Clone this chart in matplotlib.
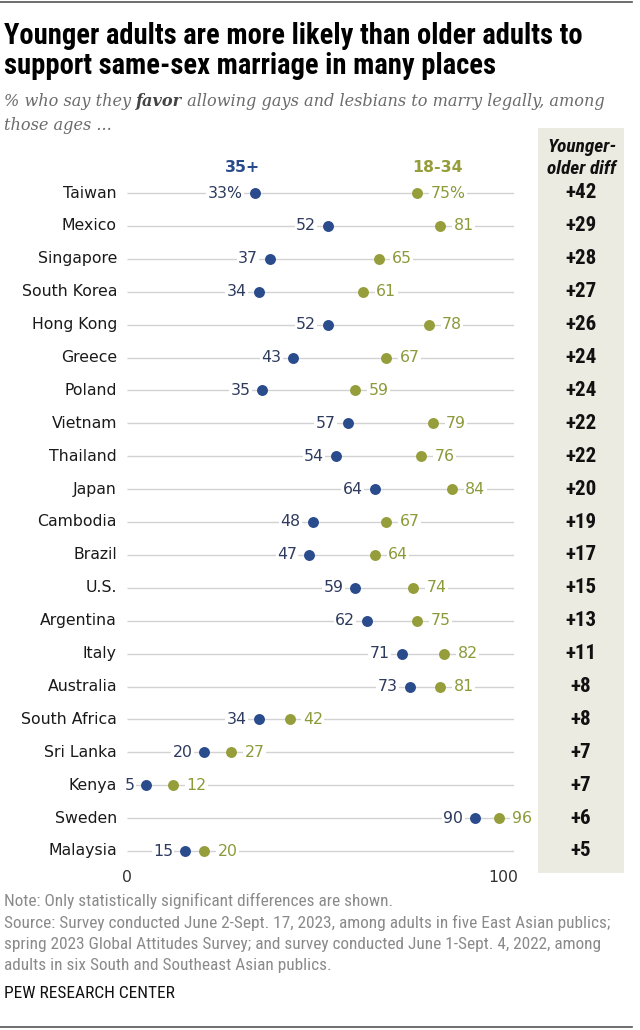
import os
import matplotlib
matplotlib.use("Agg")
import matplotlib.pyplot as plt
from matplotlib.patches import Rectangle
from matplotlib import font_manager as fm
from matplotlib.font_manager import FontProperties

countries = ["Taiwan", "Mexico", "Singapore", "South Korea", "Hong Kong", "Greece",
             "Poland", "Vietnam", "Thailand", "Japan", "Cambodia", "Brazil", "U.S.",
             "Argentina", "Italy", "Australia", "South Africa", "Sri Lanka", "Kenya",
             "Sweden", "Malaysia"]
older = [33, 52, 37, 34, 52, 43, 35, 57, 54, 64, 48, 47, 59, 62, 71, 73, 34, 20, 5, 90, 15]
younger = [75, 81, 65, 61, 78, 67, 59, 79, 76, 84, 67, 64, 74, 75, 82, 81, 42, 27, 12, 96, 20]
diffs = ["+42", "+29", "+28", "+27", "+26", "+24", "+24", "+22", "+22", "+20", "+19",
         "+17", "+15", "+13", "+11", "+8", "+8", "+7", "+7", "+6", "+5"]
xtick_labels = ["0", "100"]

W, H = 640, 1030
BLUE = "#2b4c8c"
BLUE_TXT = "#2e3b5e"
GREEN = "#959e3a"
GREEN_TXT = "#8c9a3a"
GRID = "#d2d2d2"
BOX = "#ecebe2"


def pick_narrow(bold, italic):
    cands = []
    for f in fm.fontManager.ttflist:
        p = os.path.basename(f.fname).lower()
        if not ("condensed" in p or "narrow" in p):
            continue
        if any(k in p for k in ("extra", "ultra", "semi", "light", "thin", "medium", "black")):
            continue
        b = "bold" in p
        it = ("italic" in p) or ("oblique" in p)
        if b == bold and it == italic:
            cands.append(f.fname)
    pref = ["liberationsansnarrow", "robotocondensed", "notosans", "dejavusanscondensed", "opensans"]

    def key(fn):
        p = os.path.basename(fn).lower().replace("-", "").replace("_", "")
        for k, s in enumerate(pref):
            if p.startswith(s):
                return k
        return len(pref)
    cands.sort(key=key)
    if cands:
        return FontProperties(fname=cands[0])
    return FontProperties(family=["Liberation Sans", "DejaVu Sans"],
                          weight="bold" if bold else "normal",
                          style="italic" if italic else "normal")


NAR = pick_narrow(False, False)
NAR_B = pick_narrow(True, False)
NAR_BI = pick_narrow(True, True)

fig = plt.figure(figsize=(W / 100, H / 100), dpi=100)
fig.canvas.draw()
R = fig.canvas.get_renderer()


def fx(x):
    return x / W


def fy(y):
    return 1 - y / H


def fp(base, size):
    p = base.copy()
    p.set_size(size)
    return p


def fit(t, target, base, size0):
    t.set_fontproperties(fp(base, size0))
    w = t.get_window_extent(renderer=R).width
    s = size0 * target / w
    t.set_fontproperties(fp(base, s))
    return s


# main axes: x 0..100 maps to pixel 127..514; rows from y=193 to y=851
ax_top, ax_bot = 170, 870
ax = fig.add_axes([fx(127), fy(ax_bot), (514 - 127) / W, (ax_bot - ax_top) / H])
ax.set_zorder(2)
n = len(countries)
step = (851 - 193) / (n - 1)
ax.set_xlim(0, 100)
ax.set_ylim((n - 1) + (ax_bot - 851) / step, -(193 - ax_top) / step)
ax.axis("off")

# diff column box
fig.patches.append(Rectangle((fx(538), fy(873)), (624 - 538) / W, (873 - 128) / H,
                             transform=fig.transFigure, facecolor=BOX, edgecolor="none", zorder=0))

LAB = ["DejaVu Sans"]
diff_x = 1 + (581 - 514) / (514 - 127)
for i, (c, o, y, d) in enumerate(zip(countries, older, younger, diffs)):
    ax.hlines(i, 0, 100, color=GRID, lw=1.0, zorder=1)
    ax.text(-2.6, i, c, ha="right", va="center", fontsize=11.3, family=LAB, color="#1a1a1a",
            clip_on=False)
    ax.scatter([o], [i], s=62, color=BLUE, zorder=3, linewidths=0)
    ax.scatter([y], [i], s=62, color=GREEN, zorder=3, linewidths=0)
    suf = "%" if i == 0 else ""
    ax.text(o - 3.1, i, f"{o}{suf}", ha="right", va="center", fontsize=11.3, family=LAB,
            color=BLUE_TXT, zorder=4,
            bbox=dict(boxstyle="square,pad=0.08", facecolor="white", edgecolor="none"))
    ax.text(y + 3.4, i, f"{y}{suf}", ha="left", va="center", fontsize=11.3, family=LAB,
            color=GREEN_TXT, zorder=4,
            bbox=dict(boxstyle="square,pad=0.08", facecolor="white", edgecolor="none"))
    td = ax.text(diff_x, i, d, transform=ax.get_yaxis_transform(),
                 ha="center", va="center", color="#111111", clip_on=False)
    if i == 0:
        dsize = fit(td, 31, NAR_B, 12)
    else:
        td.set_fontproperties(fp(NAR_B, dsize))

# x tick labels
ax.text(0, n - 1 + (878 - 851) / step, xtick_labels[0], ha="center", va="center",
        fontsize=11.3, family=LAB, color="#333333", clip_on=False)
ax.text(101, n - 1 + (878 - 851) / step, xtick_labels[1], ha="right", va="center",
        fontsize=11.3, family=LAB, color="#333333", clip_on=False)

# series headers
fig.text(fx(243), fy(167), "35+", ha="center", va="center", fontsize=11.3, family=LAB,
         fontweight="bold", color=BLUE)
fig.text(fx(437), fy(167), "18-34", ha="center", va="center", fontsize=11.3, family=LAB,
         fontweight="bold", color=GREEN)
h1 = fig.text(fx(582), fy(147), "Younger-", ha="center", va="center", color="#111111")
hs = fit(h1, 69, NAR_BI, 12)
fig.text(fx(582), fy(169), "older diff", ha="center", va="center", color="#111111",
         fontproperties=fp(NAR_BI, hs))

# title
t1 = fig.text(fx(4), fy(36), "Younger adults are more likely than older adults to", ha="left",
              va="center", color="#000000")
ts = fit(t1, 579, NAR_B, 17)
fig.text(fx(4), fy(66), "support same-sex marriage in many places", ha="left",
         va="center", color="#000000", fontproperties=fp(NAR_B, ts))

# subtitle with bold "favor"
SERIF = ["DejaVu Serif"]
sub_fs = 11.6
s1 = fig.text(fx(4), fy(102), "% who say they ", ha="left", va="center", fontsize=sub_fs,
              family=SERIF, style="italic", color="#6b6b6b")
bb = s1.get_window_extent(renderer=R)
s2 = fig.text(bb.x1 / W, fy(102), "favor", ha="left", va="center", fontsize=sub_fs,
              family=SERIF, style="italic", fontweight="bold", color="#444444")
bb2 = s2.get_window_extent(renderer=R)
fig.text(bb2.x1 / W, fy(102), " allowing gays and lesbians to marry legally, among",
         ha="left", va="center", fontsize=sub_fs, family=SERIF, style="italic", color="#6b6b6b")
fig.text(fx(4), fy(126), "those ages ...", ha="left", va="center", fontsize=sub_fs,
         family=SERIF, style="italic", color="#6b6b6b")

# notes
notes = ["Note: Only statistically significant differences are shown.",
         "Source: Survey conducted June 2-Sept. 17, 2023, among adults in five East Asian publics;",
         "spring 2023 Global Attitudes Survey; and survey conducted June 1-Sept. 4, 2022, among",
         "adults in six South and Southeast Asian publics."]
probe = fig.text(0, 0, notes[1], alpha=0)
ns = fit(probe, 612, NAR, 10.5)
probe.remove()
for k, line in enumerate(notes):
    fig.text(fx(4), fy(901 + k * 21.5), line, ha="left", va="center",
             fontproperties=fp(NAR, ns), color="#8a8a8a")
pw = fig.text(fx(4), fy(993), "PEW RESEARCH CENTER", ha="left", va="center", color="#111111")
fit(pw, 171, NAR, 10.5)

# top/bottom rules
fig.add_artist(plt.Line2D([0, fx(632)], [fy(2), fy(2)], transform=fig.transFigure,
                          color="#555555", lw=1.2))
fig.add_artist(plt.Line2D([0, fx(632)], [fy(1027), fy(1027)], transform=fig.transFigure,
                          color="#555555", lw=1.2))

fig.savefig("out.png", dpi=100, facecolor="white")
